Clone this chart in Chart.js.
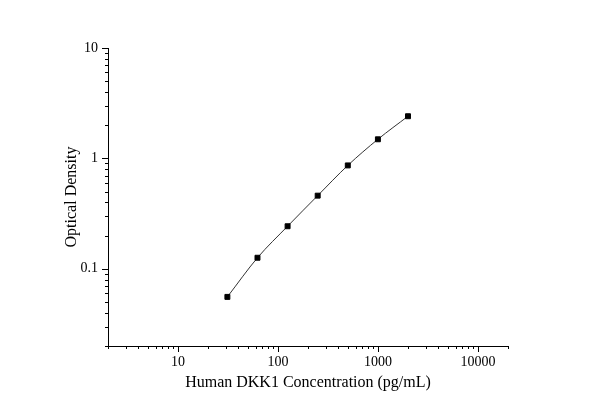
<!DOCTYPE html>
<html><head><meta charset="utf-8">
<script src="https://cdn.jsdelivr.net/npm/chart.js@4/dist/chart.umd.min.js"></script>
<style>html,body{margin:0;padding:0;background:#fff}#c{width:590px;height:414px}</style>
</head><body><div id="c"><canvas id="cv" width="590" height="414"></canvas></div>
<script>
const concentrations = [31.25, 62.5, 125, 250, 500, 1000, 2000];
const densities = [0.0557, 0.126, 0.243, 0.46, 0.864, 1.49, 2.41];
const xMajorTicks = [10, 100, 1000, 10000];
const yMajorTicks = [0.1, 1, 10];
const F = '"Liberation Serif", "Times New Roman", serif';

function minorTicks(min, max){
  const out=[];
  for(let e=-3;e<6;e++){for(let m=1;m<10;m++){const v=m*Math.pow(10,e);if(v>=min*0.999&&v<=max*1.001)out.push(v);}}
  return out;
}
const tickPlugin={id:'tk',afterDraw(ch){
  const c=ch.ctx,xs=ch.scales.x,ys=ch.scales.y,a=ch.chartArea;
  c.save();c.strokeStyle='#000';c.lineWidth=1;
  minorTicks(xs.min,xs.max).forEach(v=>{const p=Math.round(xs.getPixelForValue(v))+0.5;
    const major=xMajorTicks.includes(v);c.beginPath();c.moveTo(p,a.bottom);c.lineTo(p,a.bottom+(major?6:3));c.stroke();});
  minorTicks(ys.min,ys.max).forEach(v=>{const p=Math.round(ys.getPixelForValue(v))+0.5;
    const major=yMajorTicks.some(t=>Math.abs(t-v)<1e-9);c.beginPath();c.moveTo(a.left,p);c.lineTo(a.left-(major?6:3),p);c.stroke();});
  c.beginPath();c.moveTo(a.left+0.5,a.top);c.lineTo(a.left+0.5,a.bottom+0.5);c.lineTo(a.right,a.bottom+0.5);c.stroke();
  c.restore();
}};
new Chart(document.getElementById('cv'),{
  type:'line',
  data:{datasets:[{data:concentrations.map((x,i)=>({x,y:densities[i]})),
    borderColor:'#333',borderWidth:1,tension:0.4,cubicInterpolationMode:'monotone',
    pointStyle:'rect',pointRadius:3.5,pointBackgroundColor:'#000',pointBorderColor:'#000'}]},
  options:{responsive:false,animation:false,
    layout:{padding:{top:48,right:82,left:58,bottom:18}},
    plugins:{legend:{display:false},tooltip:{enabled:false}},
    scales:{
      x:{type:'logarithmic',min:2,max:20000,
        afterBuildTicks:s=>{s.ticks=xMajorTicks.map(v=>({value:v}));},
        afterFit:s=>{s.height=50;},
        border:{display:false},grid:{display:false},
        ticks:{color:'#000',font:{family:F,size:14},padding:0,maxRotation:0,callback:v=>String(v)},
        title:{display:true,text:'Human DKK1 Concentration (pg/mL)',color:'#000',font:{family:F,size:16},padding:{top:2}}},
      y:{type:'logarithmic',min:0.02,max:10,
        afterBuildTicks:s=>{s.ticks=yMajorTicks.map(v=>({value:v}));},
        afterFit:s=>{s.width=50;},
        border:{display:false},grid:{display:false},
        ticks:{color:'#000',font:{family:F,size:14},padding:2,callback:v=>String(v)},
        title:{display:true,text:'Optical Density',color:'#000',font:{family:F,size:16},padding:{bottom:0}}}
    }},
  plugins:[tickPlugin]
});
</script></body></html>
